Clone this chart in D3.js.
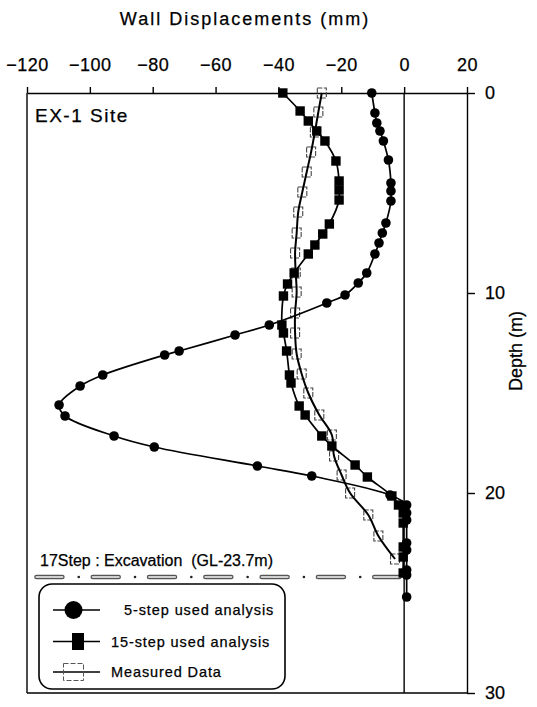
<!DOCTYPE html>
<html>
<head>
<meta charset="utf-8">
<script src="https://cdn.jsdelivr.net/npm/d3@7"></script>
<style>
  body { margin: 0; background: #fff; }
  svg { display: block; font-family: "Liberation Sans", Arial, sans-serif; }
  svg text { stroke: #000; stroke-width: 0.25px; }
</style>
</head>
<body>
<div id="chart"></div>
<script>
// values: [displacement (mm), depth (m)]
const xTicks = [-120, -100, -80, -60, -40, -20, 0, 20]
const depthTicks = [0, 10, 20, 30]

const step5 = [
  [-10.3, 0], [-9.3, 1.0], [-8.7, 1.5], [-7.7, 1.9], [-6.6, 2.4], [-5.0, 3.35],
  [-4.2, 4.5], [-4.2, 4.9], [-4.2, 5.4], [-5.8, 6.5], [-6.95, 7.0], [-8.0, 7.5],
  [-9.3, 8.05], [-11.9, 9.0], [-14.6, 9.5], [-18.8, 10.1], [-24.6, 10.5], [-42.9, 11.6],
  [-53.8, 12.1], [-71.6, 12.9], [-76.2, 13.1], [-95.9, 14.1], [-103.1, 14.65], [-109.8, 15.6],
  [-107.9, 16.15], [-92.3, 17.15], [-79.5, 17.7], [-46.7, 18.65], [-29.4, 19.15], [-4.5, 20.1],
  [0.8, 20.6], [0.8, 21.0], [0.8, 21.35], [0.8, 22.5], [0.8, 22.85], [0.8, 23.85],
  [0.8, 24.1], [0.8, 25.2]
]

const step15 = [
  [-38.6, 0], [-33.1, 0.9], [-30.5, 1.4], [-27.8, 1.9], [-25.2, 2.4], [-21.7, 3.4],
  [-20.7, 4.4], [-20.7, 4.85], [-20.7, 5.35], [-23.8, 6.55], [-25.9, 7.05], [-28.4, 7.6],
  [-30.5, 8.05], [-35.0, 9.0], [-37.1, 9.55], [-38.4, 10.15], [-38.9, 11.6], [-38.4, 12.0],
  [-37.4, 12.9], [-36.5, 14.1], [-36.0, 14.5], [-33.4, 15.65], [-31.5, 16.1], [-26.2, 17.15],
  [-23.0, 17.65], [-15.6, 18.6], [-11.7, 19.2], [-3.9, 20.15], [-1.8, 20.6], [-0.3, 21.0],
  [-0.3, 21.5], [-0.3, 22.7], [-0.3, 23.2], [-0.3, 24.0]
]

const measured = [
  [-26.2, 0], [-27.3, 0.95], [-28.4, 1.95], [-29.6, 2.95], [-31.0, 3.95], [-32.4, 4.95],
  [-33.7, 5.95], [-34.2, 7.0], [-34.7, 8.0], [-34.5, 9.0], [-34.2, 9.95], [-34.7, 11.0],
  [-34.7, 12.0], [-34.2, 13.05], [-32.6, 14.05], [-30.5, 15.0], [-27.0, 16.1], [-23.0, 17.1],
  [-22.3, 18.15], [-19.9, 19.1], [-17.2, 20.0], [-11.4, 21.1], [-8.2, 22.15], [-2.9, 23.3]
]

// excavation level drawn in the figure, and how far the marker line runs
const excavationDepth = 24.2
const excavationSpan = [-117, -1.5]

const legendLabels = ["5-step used analysis", "15-step used analysis", "Measured Data"]

const width = 537, height = 707

const x = d3.scaleLinear().domain([-120, 20]).range([27, 467])
const y = d3.scaleLinear().domain([0, 30]).range([93, 693])

const svg = d3.select("#chart").append("svg")
  .attr("width", width)
  .attr("height", height)

svg.append("rect").attr("width", width).attr("height", height).attr("fill", "#fff")

// frame: left and bottom edges, zero line
svg.append("line")
  .attr("x1", x(-120)).attr("x2", x(-120))
  .attr("y1", y(0)).attr("y2", y(30))
  .attr("stroke", "#000").attr("stroke-width", 1.4)
svg.append("line")
  .attr("x1", x(-120)).attr("x2", x(20))
  .attr("y1", y(30)).attr("y2", y(30))
  .attr("stroke", "#000").attr("stroke-width", 1.4)
svg.append("line")
  .attr("x1", x(0)).attr("x2", x(0))
  .attr("y1", y(0)).attr("y2", y(30))
  .attr("stroke", "#000").attr("stroke-width", 1.4)

// top axis
const xAxis_g = svg.append("g")
  .attr("transform", "translate(0," + y(0) + ")")
  .call(d3.axisTop(x).tickValues(xTicks).tickSize(6).tickSizeOuter(0).tickPadding(16))
xAxis_g.select(".domain").attr("stroke-width", 1.4)
xAxis_g.selectAll(".tick line").attr("stroke-width", 1.4)
xAxis_g.selectAll("text")
  .attr("font-size", 18)
  .attr("letter-spacing", "0.5px")
  .attr("fill", "#000")
  .attr("font-family", null)

// right axis
const yAxis_g = svg.append("g")
  .attr("transform", "translate(" + x(20) + ",0)")
  .call(d3.axisRight(y).tickValues(depthTicks).tickSize(8).tickSizeOuter(0).tickPadding(10))
yAxis_g.select(".domain").attr("stroke-width", 1.4)
yAxis_g.selectAll(".tick line").attr("stroke-width", 1.4)
yAxis_g.selectAll("text")
  .attr("font-size", 18)
  .attr("fill", "#000")
  .attr("font-family", null)

// titles
svg.append("text")
  .attr("x", 245).attr("y", 25)
  .attr("text-anchor", "middle")
  .attr("font-size", 18)
  .attr("letter-spacing", "2px")
  .text("Wall Displacements (mm)")

svg.append("text")
  .attr("text-anchor", "middle")
  .attr("transform", "translate(522," + y(12.9) + ")rotate(-90)")
  .attr("font-size", 18)
  .text("Depth (m)")

svg.append("text")
  .attr("x", 35).attr("y", 122)
  .attr("font-size", 19)
  .attr("letter-spacing", "1.5px")
  .text("EX-1 Site")

// excavation level
svg.append("text")
  .attr("x", 40).attr("y", 566)
  .attr("font-size", 16)
  .style("white-space", "pre")
  .text("17Step : Excavation  (GL-23.7m)")

const exc = svg.append("g")
exc.append("line")
  .attr("x1", x(excavationSpan[0])).attr("x2", x(excavationSpan[1]))
  .attr("y1", y(excavationDepth)).attr("y2", y(excavationDepth))
  .attr("stroke", "#555").attr("stroke-width", 4.5)
  .attr("stroke-linecap", "round")
  .attr("stroke-dasharray", "26 30.3")
exc.append("line")
  .attr("x1", x(excavationSpan[0])).attr("x2", x(excavationSpan[1]))
  .attr("y1", y(excavationDepth)).attr("y2", y(excavationDepth))
  .attr("stroke", "#d0d0d0").attr("stroke-width", 2)
  .attr("stroke-linecap", "round")
  .attr("stroke-dasharray", "26 30.3")
exc.append("line")
  .attr("x1", x(excavationSpan[0])).attr("x2", x(excavationSpan[1]))
  .attr("y1", y(excavationDepth)).attr("y2", y(excavationDepth))
  .attr("stroke", "#222").attr("stroke-width", 2.6)
  .attr("stroke-linecap", "round")
  .attr("stroke-dasharray", "0 56.3")
  .attr("stroke-dashoffset", 14)

// series
const line = d3.line()
  .x(d => x(d[0]))
  .y(d => y(d[1]))
  .curve(d3.curveCatmullRom.alpha(0.5))

svg.append("g").selectAll("rect")
  .data(measured)
  .enter()
  .append("rect")
  .attr("x", d => x(d[0]) - 4.5)
  .attr("y", d => y(d[1]) - 5)
  .attr("width", 9)
  .attr("height", 10)
  .attr("fill", "none")
  .attr("stroke", "#444")
  .attr("stroke-width", 1.1)
  .attr("stroke-dasharray", "5 1.5")

svg.append("path").datum(measured)
  .attr("d", line)
  .attr("fill", "none").attr("stroke", "#000").attr("stroke-width", 2)

svg.append("path").datum(step15)
  .attr("d", line)
  .attr("fill", "none").attr("stroke", "#000").attr("stroke-width", 1.7)

svg.append("path").datum(step5)
  .attr("d", line)
  .attr("fill", "none").attr("stroke", "#000").attr("stroke-width", 1.7)

svg.append("g").selectAll("rect")
  .data(step15)
  .enter()
  .append("rect")
  .attr("x", d => x(d[0]) - 4.7)
  .attr("y", d => y(d[1]) - 4.7)
  .attr("width", 9.4)
  .attr("height", 9.4)
  .attr("fill", "#000")

svg.append("g").selectAll("circle")
  .data(step5)
  .enter()
  .append("circle")
  .attr("cx", d => x(d[0]))
  .attr("cy", d => y(d[1]))
  .attr("r", 4.8)
  .attr("fill", "#000")

// legend
const legend = svg.append("g")
legend.append("rect")
  .attr("x", 39).attr("y", 584)
  .attr("width", 246).attr("height", 105)
  .attr("rx", 13)
  .attr("fill", "#fff")
  .attr("stroke", "#000").attr("stroke-width", 1.6)

const rowY = [610, 641.5, 672]
const textX = [124, 111, 111]

legendLabels.forEach((label, i) => {
  legend.append("line")
    .attr("x1", 53).attr("x2", 100)
    .attr("y1", rowY[i]).attr("y2", rowY[i])
    .attr("stroke", "#000").attr("stroke-width", 1.7)
  legend.append("text")
    .attr("x", textX[i]).attr("y", rowY[i])
    .attr("dy", "0.35em")
    .attr("font-size", 14.5)
    .attr("letter-spacing", "0.9px")
    .text(label)
})

legend.append("circle")
  .attr("cx", 73.5).attr("cy", rowY[0]).attr("r", 9)
  .attr("fill", "#000")
legend.append("rect")
  .attr("x", 72).attr("y", rowY[1] - 8.5)
  .attr("width", 12).attr("height", 17)
  .attr("fill", "#000")
legend.append("rect")
  .attr("x", 63.5).attr("y", rowY[2] - 8.5)
  .attr("width", 20).attr("height", 17)
  .attr("fill", "none")
  .attr("stroke", "#555").attr("stroke-width", 1)
  .attr("stroke-dasharray", "5 2")
</script>
</body>
</html>
